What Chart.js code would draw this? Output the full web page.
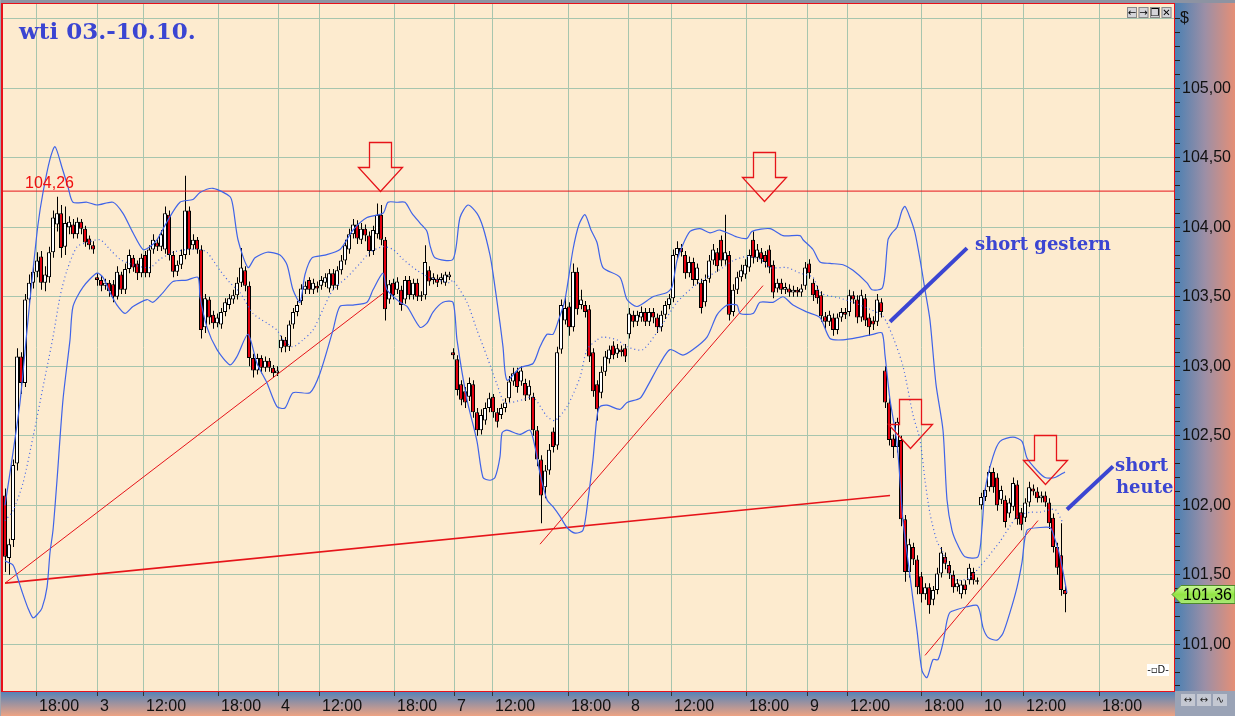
<!DOCTYPE html>
<html><head><meta charset="utf-8">
<script src="https://cdn.jsdelivr.net/npm/chart.js@4.4.1/dist/chart.umd.min.js"></script>
<style>html,body{margin:0;padding:0;background:#fff;overflow:hidden}canvas{display:block}</style>
</head><body>
<canvas id="c" width="1235" height="716"></canvas>
<script>
// ---------- DATA (bar index = one candle slot) ----------
const opens = [102.07,101.62,101.75,102.30,103.07,102.88,103.48,103.60,103.68,103.79,
103.60,103.64,103.82,104.02,104.10,103.86,104.00,104.02,103.95,104.04,
103.99,103.92,103.87,103.64,103.62,103.58,103.60,103.59,103.50,103.66,
103.55,103.70,103.78,103.74,103.67,103.80,103.67,103.84,103.89,103.86,
103.84,104.09,103.80,103.68,103.73,103.80,104.12,103.87,103.91,103.84,
103.28,103.48,103.37,103.31,103.30,103.39,103.44,103.48,103.51,103.60,
103.69,103.58,103.06,102.97,103.06,102.99,103.04,102.99,102.95,103.13,
103.19,103.14,103.30,103.39,103.47,103.55,103.62,103.55,103.58,103.58,
103.60,103.56,103.67,103.58,103.69,103.76,103.84,103.95,104.02,103.91,
103.99,103.94,103.83,103.95,104.09,103.91,103.48,103.60,103.55,103.55,
103.48,103.62,103.51,103.60,103.50,103.51,103.69,103.62,103.63,103.62,
103.60,103.64,103.10,103.05,102.87,102.82,102.78,102.87,102.67,102.54,
102.61,102.70,102.78,102.67,102.65,102.70,102.77,102.89,102.96,102.89,
102.88,102.79,102.78,102.54,102.33,102.13,102.25,102.53,102.43,103.12,
103.33,103.43,103.28,103.68,103.44,103.44,103.41,103.10,102.87,102.81,
102.96,103.05,103.15,103.09,103.12,103.13,103.23,103.37,103.32,103.35,
103.39,103.32,103.39,103.35,103.28,103.37,103.44,103.49,103.80,103.85,
103.80,103.67,103.75,103.62,103.60,103.46,103.63,103.76,103.82,103.91,
103.76,103.80,103.39,103.55,103.64,103.66,103.71,103.91,103.78,103.82,
103.80,103.84,103.73,103.56,103.60,103.55,103.56,103.53,103.55,103.53,
103.58,103.74,103.60,103.55,103.51,103.36,103.32,103.35,103.26,103.35,
103.39,103.39,103.51,103.48,103.35,103.49,103.35,103.33,103.32,103.46,
102.97,102.74,102.48,102.42,102.47,101.90,101.52,101.70,101.61,101.49,
101.36,101.41,101.32,101.39,101.51,101.63,101.57,101.50,101.41,101.36,
101.43,101.46,101.52,101.45,102.00,102.06,102.13,102.24,102.20,102.04,
102.04,101.94,101.99,102.15,101.95,101.91,102.02,102.12,102.10,102.05,
102.07,102.02,101.91,101.70,101.64,101.39];
const closes = [101.63,101.72,102.29,103.07,102.88,103.48,103.60,103.68,103.76,103.60,
103.66,103.82,104.07,104.10,103.85,104.03,104.04,103.95,104.04,103.99,
103.89,103.87,103.84,103.62,103.58,103.60,103.54,103.50,103.68,103.55,
103.70,103.80,103.71,103.67,103.78,103.67,103.84,103.91,103.86,103.95,
104.10,103.80,103.68,103.73,103.80,104.12,103.84,103.91,103.84,103.26,
103.49,103.35,103.31,103.35,103.39,103.46,103.49,103.51,103.60,103.71,
103.58,103.06,102.97,103.06,102.99,103.04,102.99,102.95,102.97,103.19,
103.14,103.30,103.39,103.44,103.56,103.58,103.55,103.60,103.56,103.62,
103.64,103.67,103.58,103.69,103.76,103.87,103.95,104.02,103.92,103.99,
103.94,103.83,103.98,104.09,103.91,103.41,103.59,103.51,103.61,103.44,
103.62,103.51,103.60,103.50,103.51,103.75,103.61,103.64,103.60,103.64,
103.66,103.66,103.08,102.83,102.76,102.74,102.88,102.67,102.54,102.65,
102.70,102.77,102.67,102.60,102.70,102.74,102.89,102.95,102.85,102.97,
102.79,102.86,102.54,102.33,102.07,102.25,102.40,102.42,103.10,103.44,
103.42,103.28,103.68,103.41,103.48,103.39,103.07,102.82,102.69,102.96,
103.07,103.12,103.08,103.13,103.10,103.07,103.38,103.32,103.37,103.39,
103.32,103.39,103.35,103.28,103.37,103.44,103.49,103.80,103.85,103.82,
103.67,103.75,103.62,103.71,103.42,103.62,103.76,103.84,103.72,103.76,
103.82,103.37,103.55,103.64,103.69,103.73,103.80,103.78,103.84,103.77,
103.75,103.71,103.53,103.60,103.55,103.57,103.53,103.55,103.53,103.56,
103.71,103.67,103.51,103.49,103.36,103.32,103.37,103.26,103.35,103.39,
103.37,103.51,103.48,103.35,103.51,103.33,103.28,103.30,103.48,103.39,
102.74,102.47,102.42,102.60,101.90,101.52,101.72,101.61,101.41,101.36,
101.41,101.28,101.39,101.51,101.66,101.58,101.51,101.41,101.44,101.43,
101.39,101.55,101.46,101.46,102.06,102.11,102.24,102.13,102.00,102.11,
101.88,102.02,102.16,101.90,101.86,102.02,102.13,102.10,102.05,102.07,
102.02,101.87,101.70,101.55,101.39,101.36];
const highs = [102.12,101.76,102.33,103.13,103.10,103.52,103.66,103.73,103.82,103.83,
103.72,103.86,104.12,104.22,104.16,104.15,104.08,104.06,104.07,104.06,
104.01,103.94,103.90,103.67,103.65,103.63,103.62,103.62,103.72,103.68,
103.74,103.84,103.80,103.76,103.81,103.83,103.87,103.95,103.92,103.98,
104.15,104.12,103.83,103.76,103.84,104.37,104.15,103.95,103.93,103.87,
103.52,103.50,103.40,103.38,103.42,103.49,103.52,103.55,103.64,103.85,
103.72,103.61,103.09,103.09,103.08,103.07,103.06,103.01,103.00,103.22,
103.21,103.33,103.42,103.47,103.59,103.61,103.64,103.63,103.61,103.65,
103.67,103.70,103.70,103.72,103.80,103.91,103.99,104.06,104.05,104.03,
104.02,103.97,104.01,104.17,104.16,103.93,103.62,103.63,103.64,103.58,
103.65,103.65,103.63,103.63,103.54,103.87,103.72,103.67,103.66,103.67,
103.68,103.68,103.13,103.08,102.90,102.85,102.92,102.90,102.70,102.69,
102.74,102.81,102.80,102.70,102.73,102.77,102.93,102.99,102.99,103.00,
102.91,102.90,102.81,102.57,102.36,102.29,102.44,102.56,103.14,103.48,
103.50,103.46,103.74,103.71,103.55,103.47,103.44,103.13,102.90,103.00,
103.11,103.15,103.18,103.16,103.15,103.16,103.42,103.40,103.40,103.43,
103.42,103.42,103.42,103.38,103.40,103.47,103.52,103.84,103.90,103.88,
103.83,103.79,103.78,103.74,103.63,103.66,103.80,103.88,103.85,103.94,
104.09,103.83,103.59,103.68,103.73,103.77,103.84,103.97,103.88,103.85,
103.83,103.87,103.76,103.63,103.63,103.60,103.59,103.58,103.57,103.59,
103.75,103.77,103.63,103.58,103.54,103.39,103.40,103.38,103.38,103.42,
103.42,103.55,103.54,103.51,103.55,103.52,103.38,103.36,103.52,103.49,
103.00,102.77,102.51,102.63,102.50,101.93,101.76,101.73,101.64,101.52,
101.44,101.44,101.42,101.55,101.70,101.66,101.60,101.53,101.47,101.46,
101.46,101.58,101.55,101.48,102.09,102.14,102.28,102.27,102.23,102.14,
102.07,102.05,102.20,102.18,101.98,102.05,102.17,102.15,102.13,102.10,
102.10,102.05,101.94,101.73,101.87,101.42];
const lows = [101.52,101.50,101.70,102.25,102.80,102.85,103.44,103.56,103.64,103.55,
103.54,103.60,103.78,103.97,103.78,103.80,103.95,103.92,103.92,103.95,
103.86,103.84,103.81,103.58,103.54,103.55,103.50,103.46,103.48,103.52,
103.52,103.67,103.68,103.62,103.64,103.64,103.64,103.81,103.83,103.83,
103.81,103.76,103.64,103.65,103.70,103.77,103.80,103.84,103.81,103.20,
103.24,103.30,103.27,103.28,103.27,103.36,103.41,103.45,103.48,103.57,
103.54,103.00,102.92,102.94,102.95,102.96,102.96,102.92,102.93,103.10,
103.10,103.11,103.27,103.36,103.44,103.52,103.52,103.52,103.53,103.55,
103.57,103.53,103.55,103.55,103.66,103.73,103.81,103.92,103.88,103.88,
103.90,103.79,103.80,103.92,103.87,103.33,103.45,103.48,103.52,103.40,
103.45,103.48,103.48,103.47,103.47,103.48,103.58,103.59,103.57,103.59,
103.58,103.62,103.05,102.79,102.72,102.70,102.75,102.63,102.50,102.51,
102.58,102.67,102.63,102.56,102.62,102.67,102.74,102.86,102.81,102.86,
102.75,102.76,102.50,102.28,101.87,102.05,102.22,102.38,102.40,103.09,
103.30,103.22,103.25,103.37,103.41,103.35,103.03,102.78,102.61,102.77,
102.93,103.02,103.05,103.06,103.07,103.03,103.20,103.28,103.29,103.32,
103.29,103.29,103.31,103.24,103.25,103.34,103.41,103.46,103.77,103.79,
103.63,103.64,103.58,103.59,103.38,103.43,103.60,103.73,103.68,103.72,
103.73,103.33,103.36,103.52,103.61,103.63,103.68,103.74,103.75,103.74,
103.71,103.67,103.49,103.53,103.52,103.52,103.50,103.50,103.50,103.50,
103.55,103.63,103.47,103.45,103.32,103.27,103.29,103.22,103.23,103.32,
103.34,103.36,103.45,103.31,103.32,103.29,103.22,103.26,103.29,103.35,
102.70,102.43,102.34,102.38,101.85,101.45,101.48,101.57,101.36,101.30,
101.32,101.22,101.28,101.36,101.48,101.54,101.47,101.37,101.38,101.33,
101.36,101.43,101.43,101.43,101.97,102.03,102.10,102.09,101.96,102.01,
101.84,101.91,101.96,101.86,101.82,101.88,101.99,102.07,102.02,102.02,
101.99,101.83,101.66,101.50,101.35,101.23];

// Bollinger bands (x = bar slot)
const upperX = [0,1.75,3.75,5.5,7,8.25,9.5,11.25,12.5,14.25,15.75,17,20.5,23,27,29.5,32,34.5,36.25,38,40.5,43.75,47,48.75,52,56.25,57,58.25,60.75,62.5,65.5,68.75,70.5,72,73.75,75,76.75,80,83.75,87,90.5,94.5,95.75,98,100,101.75,103.75,105.5,106.25,107.5,112,113.75,115.75,118,119.5,121.25,122,123.75,124.5,125.5,128.75,132,133.75,135.5,137,138.25,140,142,143.5,145,146.5,148,149.5,153.75,155.5,158,162,165.5,166.75,168,169.25,171.25,173.75,176.25,178.75,183,185.5,186.75,191.25,194.5,198.75,199.5,202,203.75,206.25,209.5,212,215.5,216.75,219.25,220,220.75,221.75,223,224.25,225,226.25,227.5,228.75,230,231.25,232.75,234.5,235.5,236.75,238.25,240,243.25,244.25,245,247,248.75,252,254.25,255.5,258,260,262.5,265];
const upperY = [102.00,102.33,102.74,103.26,103.69,104.02,104.25,104.49,104.58,104.43,104.29,104.18,104.18,104.16,104.18,104.10,103.96,103.84,103.86,103.91,104.04,104.18,104.20,104.25,104.28,104.22,104.15,103.91,103.71,103.78,103.82,103.80,103.73,103.55,103.46,103.66,103.78,103.80,103.84,103.98,104.07,104.10,104.18,104.18,104.18,104.10,104.03,103.97,103.87,103.78,103.77,104.07,104.16,104.10,104.00,103.80,103.67,103.31,103.14,102.90,102.99,103.02,103.14,103.23,103.23,103.32,103.48,103.84,104.02,104.09,103.98,103.89,103.71,103.64,103.48,103.43,103.50,103.53,103.57,103.76,103.86,103.97,103.99,103.96,103.98,103.93,103.92,103.97,103.99,103.94,103.94,103.91,103.84,103.75,103.74,103.73,103.69,103.60,103.55,103.56,103.67,103.91,103.96,104.00,104.12,104.15,104.07,103.96,103.77,103.55,103.33,102.87,102.54,102.04,101.82,101.71,101.63,101.63,101.84,102.11,102.35,102.46,102.49,102.46,102.34,102.25,102.20,102.20,102.24];
const lowerX = [0,2,3.25,4.25,5.75,7,8.25,9.25,10.5,11.25,12,13,14.5,16.25,17,19.5,23,24.5,26.25,28,30,32,35.5,37,39.5,42,45.5,48.25,48.75,50.5,53,56.25,58,60.75,63,65.5,68,70,72,76.25,78.75,82,83.75,87,90.5,92,94.5,95.5,98.75,100.5,103.75,105.5,107,109.5,112,113,115.5,118,119.5,121.25,122.5,123.75,124.25,125.5,128.75,131.25,132.5,133.75,135.5,137,138.75,140.5,142.5,144.5,145.75,147,148,148.75,150.5,153.75,155.5,158.75,160.5,163.75,166.25,169.5,172,175.5,178,180.5,183,183.75,187,188.75,192,194.5,197,200.5,203.75,206.25,209.5,213.75,217,219.25,220,221.25,223,224.5,226.25,227,228,229.25,230.5,232,233.25,234.5,235.5,236.25,238,240.5,243,243.75,244.5,245.75,248,249.5,251.25,253,254.25,255.5,258.75,261.25,262,263.75,265.5];
const lowerY = [101.60,101.57,101.47,101.38,101.26,101.19,101.22,101.26,101.41,101.66,101.82,102.18,102.76,103.19,103.43,103.57,103.67,103.64,103.53,103.44,103.38,103.43,103.48,103.46,103.53,103.61,103.62,103.64,103.50,103.28,103.12,103.01,103.07,103.23,103.02,102.88,102.71,102.70,102.81,102.81,102.95,103.26,103.43,103.44,103.46,103.55,103.67,103.55,103.46,103.43,103.28,103.31,103.39,103.46,103.46,103.19,102.76,102.46,102.20,102.18,102.20,102.35,102.52,102.54,102.51,102.54,102.42,102.23,102.04,101.99,101.92,101.84,101.80,101.82,102.04,102.33,102.64,102.71,102.72,102.69,102.74,102.77,102.85,103.02,103.12,103.08,103.12,103.21,103.37,103.44,103.44,103.38,103.38,103.46,103.46,103.50,103.44,103.39,103.35,103.20,103.19,103.21,103.23,103.24,103.08,102.76,102.45,101.89,101.49,101.32,101.10,100.81,100.76,100.89,100.89,101.01,101.17,101.23,101.25,101.27,101.28,101.23,101.12,101.05,101.03,101.08,101.23,101.41,101.59,101.82,101.84,101.84,101.80,101.63,101.37];
const midX = [0,2,4.5,7,9.5,12,13.75,15.5,18,20.5,23.75,26.25,28.75,32,36.25,38.75,42,45.5,48.75,50.5,53.75,56.25,58.75,62,65.5,68,69.5,72,74.5,77,79.5,82,85.5,88.75,91.25,94.5,97,99.5,103,106.25,111.25,112,115.5,118,120.5,123,125,129.5,132,135.5,137.5,140.5,143.75,145.5,148,149.5,153,155.5,159.5,164.5,168,172,175.5,179.5,182,185.5,188.75,191.25,195.5,198.75,202,203.75,208.75,212,216.25,219.5,222,224.5,227,228.75,230,231.25,233,234.5,236.25,238,241.25,243.75,245.5,248.75,251.25,253,256.25,258.75,262.5,264.5];
const midY = [101.89,101.96,102.16,102.49,102.85,103.21,103.50,103.69,103.86,103.89,103.91,103.84,103.77,103.73,103.71,103.77,103.82,103.84,103.84,103.82,103.69,103.60,103.53,103.38,103.31,103.26,103.19,103.14,103.19,103.26,103.41,103.55,103.64,103.74,103.82,103.86,103.84,103.77,103.69,103.64,103.60,103.62,103.46,103.26,103.07,102.87,102.74,102.76,102.78,102.64,102.61,102.71,102.92,103.12,103.19,103.21,103.19,103.14,103.12,103.31,103.46,103.57,103.64,103.71,103.76,103.79,103.77,103.71,103.71,103.67,103.64,103.53,103.49,103.46,103.41,103.36,103.21,103.00,102.65,102.47,102.18,101.94,101.74,101.66,101.51,101.46,101.48,101.56,101.62,101.74,101.85,101.92,101.95,101.95,101.97,101.87];

// Drawn trend lines (start / end in slot, price)
const trendA = [[0,101.44],[94.75,103.53]];
const trendB = [[0,101.44],[221.25,102.07]];
const trendC = [[133.75,101.72],[189.5,103.58]];
const trendD = [[230,100.92],[258.25,101.89]];
const resistance = 104.26;
const calloutGestern = [[221.25,103.32],[240.5,103.85]];
const calloutHeute = [[265.5,101.97],[277,102.28]];
const arrowTips = [[93.75,104.26],[189.75,104.19],[226.25,102.41],[260,102.15]];
const notes = [['short gestern',242.5,103.835],['short',277.5,102.25],['heute',277.75,102.085]];

// X axis: tick slots and labels
const xTickSlots = [7.75,23,34.5,53.25,68.25,78.5,97.25,112.25,121.75,140.75,155.75,166.5,185.25,200.5,210.5,229,244,254.5,273.5];
const xTickLabels = ['18:00','3','12:00','18:00','4','12:00','18:00','7','12:00','18:00','8','12:00','18:00','9','12:00','18:00','10','12:00','18:00'];
const yLabelled = [101,101.5,102,102.5,103,103.5,104,104.5,105];
const yGridded = [101,101.5,102,102.5,103,103.5,104,104.5,105,105.5];
const title = 'wti 03.-10.10.';

// ---------- STYLE ----------
const GRID = '#a7c5ae', BAND = '#3f63e8', TREND = '#e6141a', NOTE = '#3b45d2';
const fmt = v => v.toFixed(2).replace('.', ',');
const inList = (arr, v) => arr.some(a => Math.abs(a - v) < 1e-6);
const pts = arr => arr.map(p => ({x: p[0], y: p[1]}));
const series = (xs, ys) => xs.map((x, i) => ({x, y: ys[i]}));
const X_MIN = -0.5, X_MAX = 292.5, WICK_SHIFT = 0.125; // wick drawn on a whole pixel column

const bgPlugin = {
  id: 'bg',
  beforeDraw(chart) {
    const {ctx, chartArea: a, width, height} = chart;
    ctx.save();
    ctx.fillStyle = '#fdebcf';
    ctx.fillRect(a.left, a.top, a.right - a.left, a.bottom - a.top);
    let g = ctx.createLinearGradient(a.right, 0, width, 0);
    g.addColorStop(0, '#4a80b3'); g.addColorStop(0.5, '#9c8fa6'); g.addColorStop(1, '#e58f76');
    ctx.fillStyle = g; ctx.fillRect(a.right, 0, width - a.right, a.bottom);
    g = ctx.createLinearGradient(0, a.bottom, 0, height);
    g.addColorStop(0, '#4f82ba'); g.addColorStop(1, '#eea383');
    ctx.fillStyle = g; ctx.fillRect(0, a.bottom, a.right, height - a.bottom);
    ctx.fillStyle = '#9aa3b6'; ctx.fillRect(a.right, a.bottom, width - a.right, height - a.bottom);
    ctx.fillStyle = '#8d93a2'; ctx.fillRect(0, 0, width, 3);
    ctx.fillStyle = '#a0a4ae'; ctx.fillRect(0, 0, 1, height);
    ctx.restore();
  }
};

const annPlugin = {
  id: 'ann',
  afterDraw(chart) {
    const {ctx, chartArea: a, scales: {x, y}, width} = chart;
    ctx.save();
    // frame
    ctx.fillStyle = '#e8101a';
    ctx.fillRect(1, 3, 2, a.bottom - 3);
    ctx.fillRect(1, 3, a.right - 1, 1);
    ctx.fillRect(a.right - 1, 3, 1, a.bottom - 3);
    ctx.fillRect(1, a.bottom, a.right - 1, 1);
    // arrows
    ctx.save();
    ctx.beginPath(); ctx.rect(a.left, a.top, a.right - a.left, a.bottom - a.top); ctx.clip();
    ctx.strokeStyle = TREND; ctx.lineWidth = 1.3;
    const hw = 22, sw = 11, hh = 24, sh = 25;
    for (const t of arrowTips) {
      const px = Math.round(x.getPixelForValue(t[0])) + 0.5, py = Math.round(y.getPixelForValue(t[1])) + 0.5;
      ctx.beginPath();
      ctx.moveTo(px - sw, py - hh); ctx.lineTo(px - sw, py - hh - sh);
      ctx.lineTo(px + sw, py - hh - sh); ctx.lineTo(px + sw, py - hh);
      ctx.lineTo(px + hw, py - hh); ctx.lineTo(px, py); ctx.lineTo(px - hw, py - hh);
      ctx.closePath(); ctx.stroke();
    }
    ctx.restore();
    // resistance label
    ctx.fillStyle = '#f01010'; ctx.font = '16px "Liberation Sans"'; ctx.textBaseline = 'alphabetic'; ctx.textAlign = 'left';
    ctx.fillText(fmt(resistance), x.getPixelForValue(5), y.getPixelForValue(resistance) - 3);
    // title
    ctx.fillStyle = NOTE; ctx.font = 'bold 23px "DejaVu Serif"';
    ctx.fillText(title, 19, 39);
    // notes
    ctx.font = 'bold 18px "DejaVu Serif"';
    for (const n of notes) ctx.fillText(n[0], x.getPixelForValue(n[1]), y.getPixelForValue(n[2]));
    // $ sign
    ctx.fillStyle = '#111'; ctx.font = '16px "Liberation Sans"';
    ctx.fillText('$', a.right + 5, 23);
    // price tag
    const last = closes[closes.length - 1];
    const py = Math.round(y.getPixelForValue(last)) + 0.5;
    const g = ctx.createLinearGradient(0, py - 9, 0, py + 9);
    g.addColorStop(0, '#c9f79a'); g.addColorStop(0.5, '#93e544'); g.addColorStop(1, '#a8e878');
    ctx.beginPath();
    ctx.moveTo(a.right - 3, py); ctx.lineTo(a.right + 6, py - 9); ctx.lineTo(width, py - 9);
    ctx.lineTo(width, py + 9); ctx.lineTo(a.right + 6, py + 9); ctx.closePath();
    ctx.fillStyle = g; ctx.fill(); ctx.strokeStyle = '#4e8a2c'; ctx.lineWidth = 1; ctx.stroke();
    ctx.fillStyle = '#000'; ctx.textBaseline = 'middle';
    ctx.fillText(fmt(last), a.right + 8, py + 1);
    // window buttons (top right)
    ctx.font = '10px "DejaVu Sans"'; ctx.textAlign = 'center';
    ['\u2190', '\u2192', '\u2750', '\u2715'].forEach((s, i) => {
      const bx = a.right - 48 + i * 11.5;
      ctx.fillStyle = '#d4d4d8'; ctx.fillRect(bx, 7, 10, 11);
      ctx.strokeStyle = '#888'; ctx.strokeRect(bx + 0.5, 7.5, 9, 10);
      ctx.fillStyle = '#000'; ctx.fillText(s, bx + 5, 13);
    });
    // bottom-right buttons
    ['\u2194', '\u2194', '\u223F'].forEach((s, i) => {
      const bx = a.right + 6 + i * 16;
      ctx.fillStyle = '#c4c8d2'; ctx.fillRect(bx, a.bottom + 3, 14, 12);
      ctx.fillStyle = '#222'; ctx.fillText(s, bx + 7, a.bottom + 9);
    });
    // small link glyph
    ctx.fillStyle = '#fff'; ctx.fillRect(a.right - 28, 664, 22, 12);
    ctx.fillStyle = '#111'; ctx.font = '10px "DejaVu Sans"'; ctx.fillText('-\u25ABD-', a.right - 17, 670);
    ctx.restore();
  }
};

const lineDs = (data, color, w, extra) => Object.assign({
  type: 'line', data, borderColor: color, borderWidth: w, pointRadius: 0,
  tension: 0, fill: false, order: -1
}, extra || {});

new Chart(document.getElementById('c'), {
  type: 'bar',
  data: {
    datasets: [
      lineDs(series(upperX, upperY), BAND, 1.2, {tension: 0.25}),
      lineDs(series(lowerX, lowerY), BAND, 1.2, {tension: 0.25}),
      lineDs(series(midX, midY), BAND, 1.2, {tension: 0.25, borderDash: [1, 3]}),
      lineDs(pts(trendA), TREND, 1),
      lineDs(pts(trendB), TREND, 1.6),
      lineDs(pts(trendC), TREND, 1),
      lineDs(pts(trendD), TREND, 1),
      lineDs([{x: X_MIN, y: resistance}, {x: X_MAX, y: resistance}], TREND, 1),
      lineDs(pts(calloutGestern), NOTE, 4, {order: -2}),
      lineDs(pts(calloutHeute), NOTE, 4, {order: -2}),
      {
        type: 'bar', data: opens.map((o, i) => ({x: i, y: [o, closes[i]]})),
        backgroundColor: c => closes[c.dataIndex] >= opens[c.dataIndex] ? '#ffffff' : '#e3000f',
        borderColor: '#000', borderWidth: 1, borderSkipped: false, barThickness: 4,
        grouped: false, inflateAmount: 0, order: 0
      },
      {
        type: 'bar', data: lows.map((l, i) => ({x: i + WICK_SHIFT, y: [l, highs[i]]})),
        backgroundColor: '#000', borderWidth: 0, barThickness: 1,
        grouped: false, inflateAmount: 0, order: 1
      }
    ]
  },
  options: {
    responsive: false, animation: false, devicePixelRatio: 1,
    layout: {padding: {left: 3, top: 4, right: 0, bottom: 0}},
    plugins: {legend: {display: false}, tooltip: {enabled: false}},
    scales: {
      x: {
        type: 'linear', min: X_MIN, max: X_MAX, offset: false,
        afterBuildTicks: s => { s.ticks = xTickSlots.map(v => ({value: v})); },
        afterFit: s => { s.height = 25; s.paddingLeft = 0; s.paddingRight = 0; },
        ticks: {autoSkip: false, maxRotation: 0, minRotation: 0, align: 'start', labelOffset: 3, padding: 1,
          color: '#111', font: {family: 'Liberation Sans', size: 16},
          callback: (v, i) => xTickLabels[i]},
        grid: {offset: false, color: GRID, lineWidth: 1, tickLength: 5, tickColor: '#333'},
        border: {display: false}
      },
      y: {
        type: 'linear', position: 'right', min: 100.664, max: 105.606,
        afterBuildTicks: s => { const t = []; for (let k = 1007; k <= 1055; k++) t.push({value: k / 10}); s.ticks = t; },
        afterFit: s => { s.width = 60; s.paddingTop = 0; s.paddingBottom = 0; },
        ticks: {autoSkip: false, padding: 2, color: '#111', font: {family: 'Liberation Sans', size: 16},
          callback: v => inList(yLabelled, v) ? fmt(v) : ''},
        grid: {offset: false, color: c => inList(yGridded, c.tick.value) ? GRID : 'rgba(0,0,0,0)', lineWidth: 1,
          tickLength: 5, tickColor: '#222'},
        border: {display: false}
      }
    }
  },
  plugins: [bgPlugin, annPlugin]
});
</script>
</body></html>
